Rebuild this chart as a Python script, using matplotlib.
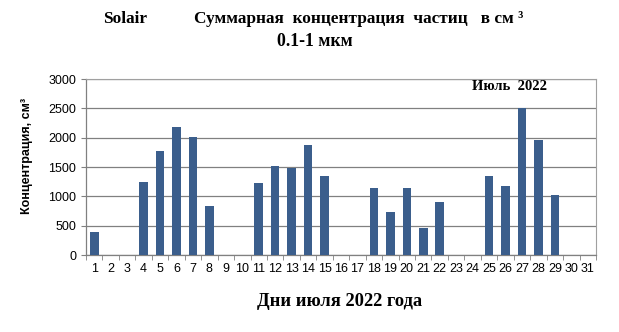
import matplotlib
matplotlib.use("Agg")
import matplotlib.pyplot as plt
import numpy as np

days = list(range(1, 32))
values = [400, 0, 0, 1240, 1770, 2180, 2010, 840, 0, 0,
          1230, 1520, 1490, 1870, 1350, 0, 0, 1150, 740, 1150,
          460, 910, 0, 0, 1350, 1170, 2500, 1960, 1030, 0, 0]
yticks = [0, 500, 1000, 1500, 2000, 2500, 3000]

fig = plt.figure(figsize=(6.19, 3.32), dpi=100)
ax = fig.add_axes([86/619, 1-255/332, (596-86)/619, (255-79)/332])

x = np.arange(len(days))
ax.bar(x, values, width=0.52, color="#3B5E8C", zorder=3)
ax.set_xlim(-0.5, len(days) - 0.5)
ax.set_ylim(0, 3000)
ax.set_yticks(yticks)
ax.set_yticklabels([str(v) for v in yticks], family="Liberation Sans", fontsize=9)
ax.set_xticks(x)
ax.set_xticklabels([str(d) for d in days], family="Liberation Sans", fontsize=9)
ax.tick_params(axis="x", length=0, pad=6)
ax.set_xticks(np.arange(-0.5, len(days)), minor=True)
ax.tick_params(axis="x", which="minor", length=3.5, color="#808080", direction="out")
ax.tick_params(axis="y", length=3.6, color="#808080", direction="out", pad=3.6)
ax.grid(axis="y", color="#808080", linewidth=0.9, zorder=0)
for s in ["top", "right"]:
    ax.spines[s].set_color("#A0A0A0")
    ax.spines[s].set_linewidth(0.8)
for s in ["left", "bottom"]:
    ax.spines[s].set_color("#808080")
    ax.spines[s].set_linewidth(0.9)

ax.set_ylabel("Концентрация, см³", family="Liberation Sans", fontweight="bold",
              fontsize=9)
ax.yaxis.set_label_coords((33-86)/510, (255-156)/176)

fig.text(103/619, 1-19/332, "Solair", family="Liberation Serif", fontweight="bold",
         fontsize=12.4, ha="left", va="center")
fig.text(194/619, 1-19/332, "Суммарная  концентрация  частиц   в см ³",
         family="Liberation Serif", fontweight="bold", fontsize=12.4, ha="left", va="center")
fig.text(315/619, 1-41/332, "0.1-1 мкм", family="Liberation Serif", fontweight="bold",
         fontsize=12.8, ha="center", va="center")
fig.text(509/619, 1-86/332, "Июль  2022", family="Liberation Serif", fontweight="bold",
         fontsize=10.5, ha="center", va="center")
fig.text(339.5/619, 1-301/332, "Дни июля 2022 года", family="Liberation Serif",
         fontweight="bold", fontsize=13.3, ha="center", va="center")

fig.savefig("out.png", dpi=100)
